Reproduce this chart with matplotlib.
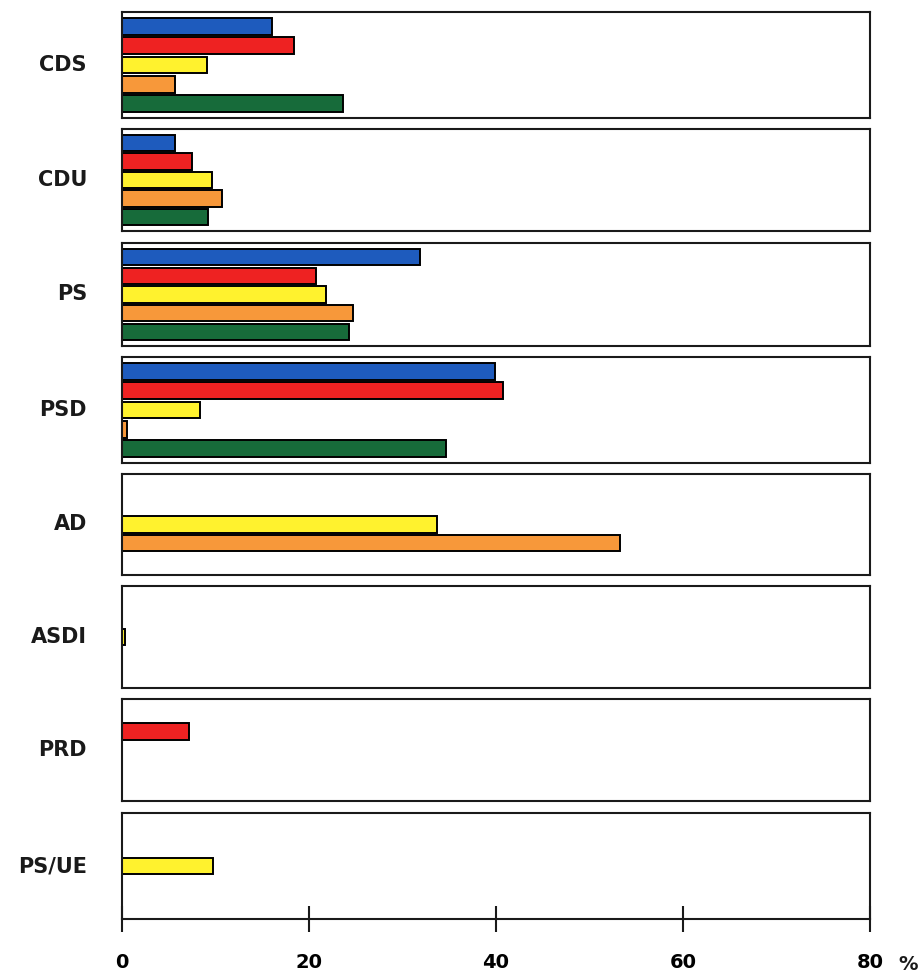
import matplotlib.pyplot as plt
import numpy as np

# ---- data (% of vote) ----
parties = ["CDS", "CDU", "PS", "PSD", "AD", "ASDI", "PRD", "PS/UE"]
# None = no bar for that party in that series
blue   = [16.0, 5.7, 31.9, 39.9, None, None, None, None]
red    = [18.4, 7.5, 20.8, 40.8, None, None, 7.2, None]
yellow = [9.1, 9.6, 21.8, 8.3, 33.7, 0.3, None, 9.7]
orange = [5.7, 10.7, 24.7, 0.5, 53.3, None, None, None]
green  = [23.6, 9.2, 24.3, 34.6, None, None, None, None]
xticks = [0, 20, 40, 60, 80]

series = [blue, red, yellow, orange, green]
colors = ['#1e5bbd', '#ee2222', '#fff22e', '#f7983a', '#176b3a']

plt.rcParams['font.family'] = 'DejaVu Sans'

W, H = 923, 977
fig = plt.figure(figsize=(W / 100, H / 100), dpi=100)

# panel boxes (pixels from top of figure)
tops = [12, 129, 243, 357, 474, 586, 699, 813]
bots = [118, 231, 346, 463, 575, 688, 801, 919]
x0, x1 = 122, 870

for i, name in enumerate(parties):
    ax = fig.add_axes([x0 / W, 1 - bots[i] / H, (x1 - x0) / W, (bots[i] - tops[i]) / H])
    for k, (vals, c) in enumerate(zip(series, colors)):
        if vals[i] is None:
            continue
        ax.barh(k, vals[i], height=0.88, color=c, edgecolor='black', linewidth=1.4, zorder=2)
    ax.set_xlim(0, 80)
    ax.set_ylim(4.75, -0.75)
    ax.set_yticks([])
    for s in ax.spines.values():
        s.set_linewidth(1.5)
        s.set_color('#1a1a1a')

    # party name to the left of the box
    ax.text(-35 / (x1 - x0), 2, name, transform=ax.get_yaxis_transform(),
            ha='right', va='center', fontsize=15, fontweight='bold', color='#1a1a1a')

    if i == len(parties) - 1:
        ax.set_xticks(xticks)
        ax.tick_params(axis='x', direction='inout', length=19, width=1.5, pad=15,
                       labelsize=14, color='#1a1a1a')
        for lab in ax.get_xticklabels():
            lab.set_fontweight('bold')
    else:
        ax.set_xticks([])

fig.text(908 / W, 1 - 964 / H, '%', ha='center', va='center', fontsize=14,
         fontweight='bold', color='#1a1a1a')

plt.savefig('out.png', dpi=100)
